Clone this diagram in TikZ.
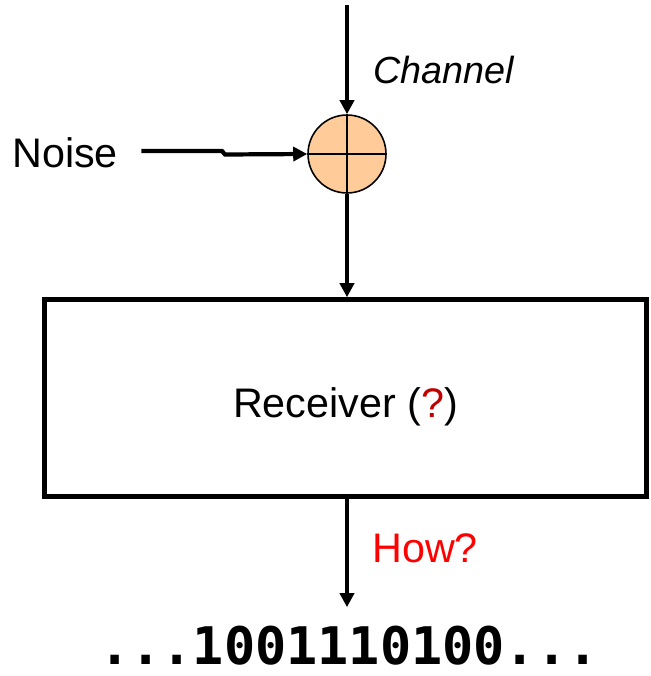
\documentclass[tikz,border=0pt]{standalone}
\usepackage{fontspec}
\setmainfont{Liberation Sans}
\newfontfamily\bitsfont{DejaVu Sans Mono}
\usetikzlibrary{arrows.meta,positioning,calc}
\definecolor{SumOrange}{RGB}{255,204,153}
\definecolor{QuestRed}{RGB}{192,0,0}
\definecolor{HowRed}{RGB}{255,0,0}
\tikzset{
  label text/.style={
    inner sep=0pt,
    font=\fontsize{23.5}{28}\selectfont,
  },
  sum node/.style={
    draw,
    circle,
    minimum size=1.56cm,
    inner sep=0pt,
    fill=SumOrange,
    line width=0.9pt,
  },
  rx box/.style={
    draw,
    line width=2.6pt,
    minimum width=12.05cm,
    minimum height=3.94cm,
    font=\fontsize{23.5}{28}\selectfont,
  },
  flow/.style={
    -{Triangle[length=2.8mm,width=2.8mm]},
    line width=2.4pt,
  },
}

\begin{document}
\begin{tikzpicture}[x=0.02cm,y=-0.02cm]
\useasboundingbox (0,0) rectangle (650,676);

% Adder with the noise input.
\node[sum node] (sum) at (347,154) {};
\draw[line width=0.9pt] (sum.north) -- (sum.south);
\draw[line width=0.9pt] (sum.west) -- (sum.east);

\coordinate (chan) at (347,5);
\draw[flow] (chan) -- (sum.north);
\node[label text,anchor=west,font=\fontsize{21.5}{26}\selectfont\itshape] (chanlbl) at (373,70) {Channel};

\node[label text,anchor=west] (noise) at (12,153) {Noise};
\coordinate (jog) at (222,151);
\draw[flow] ([xshift=0.46cm,yshift=0.04cm]noise.east) -- (jog) -- ++(3,3.5) -- (sum.west);

% Receiver.
\node[rx box] (rx) at (345.5,398) {\raisebox{-0.38cm}[0pt][0pt]{Receiver (\textcolor{QuestRed}{?})}};
\draw[flow] (sum.south) -- (sum.south |- rx.north);

% Output bits.
\node[inner sep=0pt,anchor=base,font=\bitsfont\bfseries\fontsize{29.5}{34}\selectfont] (bits) at (349,664) {...1001110100...};
\draw[flow] (rx.south -| sum) -- ([yshift=0.36cm]bits.north -| sum);
\node[label text,anchor=west,text=HowRed] (how) at (372,548) {How?};

\end{tikzpicture}
\end{document}
